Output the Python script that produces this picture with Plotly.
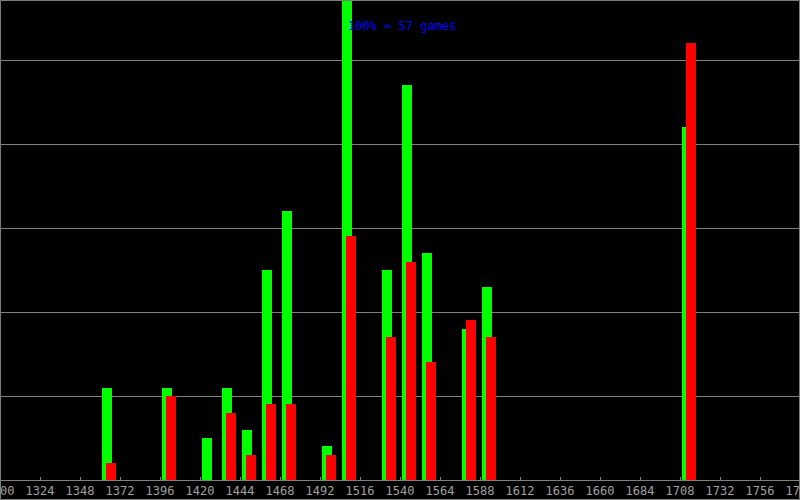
import plotly.graph_objects as go

bins = [1364, 1400, 1424, 1436, 1448, 1460, 1472, 1496, 1508, 1532, 1544, 1556, 1580, 1592, 1712]
green_vals = [11, 11, 5, 11, 6, 25, 32, 4, 57, 25, 47, 27, 18, 23, 42]
red_vals = [2, 10, 0, 8, 3, 9, 9, 3, 29, 17, 26, 14, 19, 17, 52]
total_games = 57
tick_start, tick_step, tick_end = 1300, 24, 1780

fig = go.Figure()
fig.add_trace(go.Bar(x=bins, y=green_vals, width=6, offset=-3,
                     marker=dict(color="#00ff00", line=dict(width=0)),
                     hoverinfo="skip", showlegend=False))
fig.add_trace(go.Bar(x=bins, y=red_vals, width=6, offset=-0.6,
                     marker=dict(color="#ff0000", line=dict(width=0)),
                     hoverinfo="skip", showlegend=False))

mono = "DejaVu Sans Mono"
fig.update_layout(
    width=800, height=500,
    margin=dict(l=0, r=0, t=0, b=20, pad=0, autoexpand=False),
    paper_bgcolor="#000000", plot_bgcolor="#000000",
    barmode="overlay", bargap=0,
    font=dict(family=mono, size=12, color="#a0a0a0"),
    xaxis=dict(range=[tick_start, tick_end], tick0=tick_start, dtick=tick_step,
               tickmode="linear", showgrid=False, zeroline=False,
               showline=True, linecolor="#808080", linewidth=1,
               ticks="inside", ticklen=3, tickcolor="#808080",
               ticklabeloverflow="allow", automargin=False,
               tickfont=dict(family=mono, size=12, color="#a0a0a0")),
    yaxis=dict(range=[0, 480 / 8.4], dtick=10, tick0=0, showgrid=True,
               gridcolor="#808080", gridwidth=1, zeroline=False, automargin=False,
               showticklabels=False, showline=False, ticks=""),
    annotations=[dict(x=1507.6, y=54.0, xref="x", yref="y", xanchor="left", yanchor="middle",
                      text=f"100% = {total_games} games", showarrow=False,
                      font=dict(family=mono, size=12, color="#0000ff"))],
    shapes=[dict(type="rect", xref="paper", yref="paper", x0=0.0006, x1=0.9994,
                 y0=-19.5 / 480, y1=0.999, line=dict(color="#808080", width=1),
                 fillcolor="rgba(0,0,0,0)", layer="above")],
)

fig.write_html("out.html", config={"displayModeBar": False},
               post_script="document.body.style.margin='0';document.body.style.overflow='hidden';")
